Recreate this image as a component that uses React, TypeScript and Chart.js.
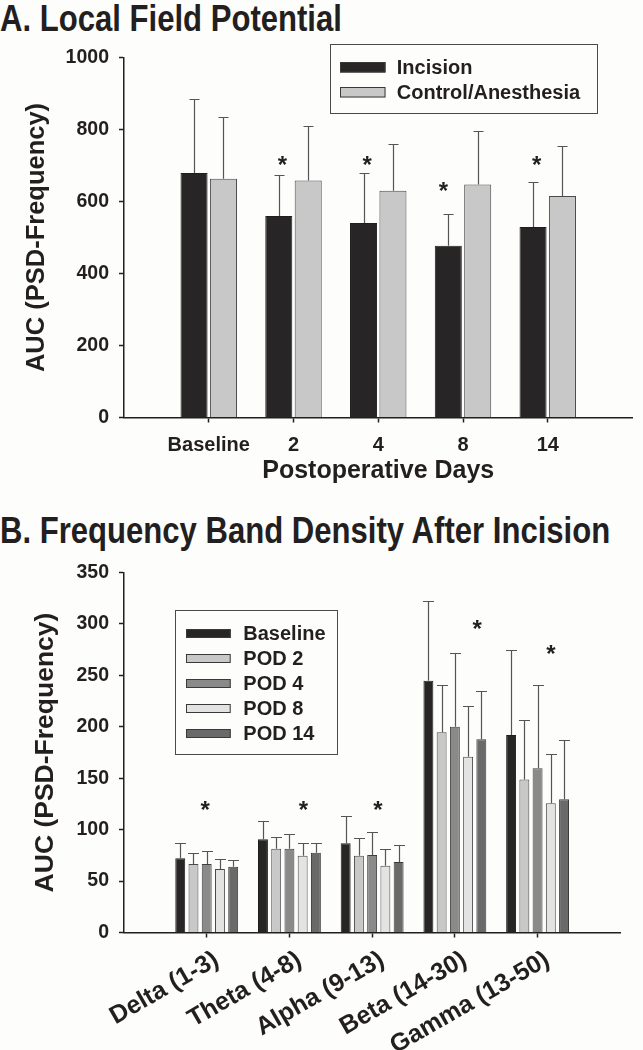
import React, { useEffect, useRef } from 'react';
import { Chart, registerables } from 'chart.js';

Chart.register(...registerables);

const FONT = '"Liberation Sans", Arial, Helvetica, sans-serif';
const INK = '#231f20';
const BG = '#fdfdfb';

// ---------- Panel A: Local Field Potential ----------
const daysLabels = ['Baseline', '2', '4', '8', '14'];
const incisionMean = [679, 560, 540, 477, 529];
const incisionErrTop = [886, 673, 680, 564, 654];
const controlMean = [663, 658, 630, 647, 615];
const controlErrTop = [834, 810, 760, 797, 753];
const starAValue = [null, 717, 717, 644, 717];
const starAOffset = [0, -0.13, -0.13, -0.23, -0.13];
const yTicksA = [0, 200, 400, 600, 800, 1000];

// ---------- Panel B: Frequency Band Density ----------
const bandLabels = ['Delta (1-3)', 'Theta (4-8)', 'Alpha (9-13)', 'Beta (14-30)', 'Gamma (13-50)'];
const baselineMean = [72.1, 90.6, 86.7, 244.8, 191.9];
const baselineErrTop = [86.7, 108.8, 113, 322.4, 274.4];
const pod2Mean = [66.6, 81.5, 74.7, 194.8, 148.7];
const pod2ErrTop = [77.6, 92.5, 91.9, 240.9, 206.5];
const pod4Mean = [66.6, 81.5, 75.3, 200, 159.7];
const pod4ErrTop = [78.9, 95.5, 97.7, 272.1, 240.9];
const pod8Mean = [61.7, 74.7, 64.9, 170.8, 125.6];
const pod8ErrTop = [71.8, 86.7, 80.8, 219.8, 173.7];
const pod14Mean = [64.0, 77.6, 68.5, 188.0, 129.5];
const pod14ErrTop = [70.8, 86.7, 84.7, 234.7, 186.7];
const starBValue = [125, 125, 125, 301, 276];
const starBOffset = [-0.02, 0.17, 0.07, 0.27, 0.16];
const yTicksB = [0, 50, 100, 150, 200, 250, 300, 350];

const pad = (a: any[]) => [null, ...a, null];
const padLabels = (a: string[]) => ['', ...a, ''];

// ---------- plugins ----------
const errorBarPlugin = {
  id: 'errorBars',
  afterDatasetsDraw(chart: any, _args: any, opts: any) {
    const { ctx } = chart;
    const yScale = chart.scales.y;
    ctx.save();
    ctx.strokeStyle = opts.color;
    ctx.lineWidth = opts.width;
    chart.data.datasets.forEach((ds: any, di: number) => {
      const meta = chart.getDatasetMeta(di);
      meta.data.forEach((bar: any, j: number) => {
        const v = ds.errTop ? ds.errTop[j] : null;
        if (v == null) return;
        const x = Math.round(bar.x) + 0.5;
        const yTop = Math.round(yScale.getPixelForValue(v)) + 0.5;
        ctx.beginPath();
        ctx.moveTo(x, bar.y);
        ctx.lineTo(x, yTop);
        ctx.moveTo(x - opts.cap / 2, yTop);
        ctx.lineTo(x + opts.cap / 2, yTop);
        ctx.stroke();
      });
    });
    ctx.restore();
  },
};

const starPlugin = {
  id: 'stars',
  afterDatasetsDraw(chart: any, _args: any, opts: any) {
    const { ctx } = chart;
    const xs = chart.scales.x;
    const ys = chart.scales.y;
    ctx.save();
    ctx.fillStyle = INK;
    ctx.font = `bold ${opts.size}px ${FONT}`;
    ctx.textAlign = 'center';
    ctx.textBaseline = 'alphabetic';
    opts.values.forEach((v: number | null, i: number) => {
      if (v == null) return;
      const x = xs.getPixelForValue(i + 1 + opts.offsets[i]);
      const y = ys.getPixelForValue(v) + opts.size * 0.57;
      ctx.fillText('*', x, y);
    });
    ctx.restore();
  },
};

const boxLegendPlugin = {
  id: 'boxLegend',
  afterDraw(chart: any, _args: any, o: any) {
    const { ctx } = chart;
    ctx.save();
    ctx.strokeStyle = '#4a4a4a';
    ctx.lineWidth = 1;
    ctx.strokeRect(Math.round(o.x) + 0.5, Math.round(o.y) + 0.5, Math.round(o.w), Math.round(o.h));
    ctx.font = `bold ${o.fontSize}px ${FONT}`;
    ctx.textBaseline = 'middle';
    ctx.textAlign = 'left';
    chart.data.datasets.forEach((ds: any, i: number) => {
      const cy = o.firstRowY + i * o.rowGap;
      const top = Math.round(cy - o.swatchH / 2);
      ctx.fillStyle = ds.backgroundColor;
      ctx.fillRect(o.swatchX, top, o.swatchW, o.swatchH);
      ctx.strokeStyle = '#3a3a3a';
      ctx.strokeRect(o.swatchX + 0.5, top + 0.5, o.swatchW - 1, o.swatchH - 1);
      ctx.fillStyle = INK;
      ctx.fillText(ds.label, o.textX, cy + 1);
    });
    ctx.restore();
  },
};

const axisGrid = (lastIndex: number | null) => ({
  display: true,
  drawOnChartArea: false,
  drawTicks: true,
  tickLength: 5,
  tickWidth: 1.5,
  offset: false,
  tickColor: (c: any) =>
    lastIndex !== null && (c.index === 0 || c.index === lastIndex) ? 'rgba(0,0,0,0)' : INK,
});

const plainNumber = (v: any) => String(v);

function ChartA() {
  const ref = useRef<HTMLCanvasElement | null>(null);
  useEffect(() => {
    if (!ref.current) return;
    const labels = padLabels(daysLabels);
    const chart = new Chart(ref.current, {
      type: 'bar',
      data: {
        labels,
        datasets: [
          {
            label: 'Incision',
            data: pad(incisionMean),
            errTop: pad(incisionErrTop),
            backgroundColor: '#282526',
            borderColor: '#1e1e1e',
            borderWidth: 1,
          } as any,
          {
            label: 'Control/Anesthesia',
            data: pad(controlMean),
            errTop: pad(controlErrTop),
            backgroundColor: '#c8c8c8',
            borderColor: '#4a4a4a',
            borderWidth: 1,
          } as any,
        ],
      },
      options: {
        responsive: false,
        animation: false,
        devicePixelRatio: 1,
        layout: { padding: { top: 27.5, right: 4, bottom: 0, left: 0 } },
        datasets: { bar: { categoryPercentage: 0.694, barPercentage: 0.92 } },
        scales: {
          x: {
            type: 'category',
            offset: false,
            grid: axisGrid(labels.length - 1),
            border: { display: true, color: INK, width: 1.5 },
            ticks: {
              autoSkip: false,
              maxRotation: 0,
              minRotation: 0,
              padding: 10.5,
              color: INK,
              font: { family: FONT, size: 20, weight: 'bold' },
            },
            title: {
              display: true,
              text: 'Postoperative Days',
              color: INK,
              font: { family: FONT, size: 25, weight: 'bold', lineHeight: 1.2 },
              padding: { top: 0, bottom: 14.2 },
            },
            afterFit: (s: any) => {
              s.height = 82.5;
            },
          },
          y: {
            min: yTicksA[0],
            max: yTicksA[yTicksA.length - 1],
            grid: axisGrid(null),
            border: { display: true, color: INK, width: 1.5 },
            ticks: {
              stepSize: yTicksA[1] - yTicksA[0],
              padding: 10,
              color: INK,
              callback: plainNumber,
              font: { family: FONT, size: 19.5, weight: 'bold' },
            },
            title: {
              display: true,
              text: 'AUC (PSD-Frequency)',
              color: INK,
              font: { family: FONT, size: 25.5, weight: 'bold', lineHeight: 1.2 },
              padding: { top: 21.3, bottom: 0 },
            },
            afterFit: (s: any) => {
              s.width = 124;
            },
          },
        },
        plugins: {
          legend: { display: false },
          tooltip: { enabled: false },
          errorBars: { color: '#555', width: 1.2, cap: 10 },
          stars: { values: starAValue, offsets: starAOffset, size: 24 },
          boxLegend: {
            x: 330,
            y: 14.3,
            w: 266.6,
            h: 69.4,
            swatchX: 340,
            swatchW: 45.5,
            swatchH: 10.5,
            firstRowY: 37.3,
            rowGap: 25,
            textX: 396.8,
            fontSize: 20,
          },
        } as any,
      },
      plugins: [errorBarPlugin, starPlugin, boxLegendPlugin],
    } as any);
    return () => chart.destroy();
  }, []);
  return (
    <canvas
      ref={ref}
      width={643}
      height={470}
      style={{ position: 'absolute', left: 0, top: 30, width: 643, height: 470 }}
    />
  );
}

function ChartB() {
  const ref = useRef<HTMLCanvasElement | null>(null);
  useEffect(() => {
    if (!ref.current) return;
    const labels = padLabels(bandLabels);
    const mk = (label: string, mean: number[], err: number[], color: string, border: string) =>
      ({
        label,
        data: pad(mean),
        errTop: pad(err),
        backgroundColor: color,
        borderColor: border,
        borderWidth: 1,
      } as any);
    const chart = new Chart(ref.current, {
      type: 'bar',
      data: {
        labels,
        datasets: [
          mk('Baseline', baselineMean, baselineErrTop, '#282526', '#1e1e1e'),
          mk('POD 2', pod2Mean, pod2ErrTop, '#c8c8c8', '#4a4a4a'),
          mk('POD 4', pod4Mean, pod4ErrTop, '#8a8a8a', '#3e3e3e'),
          mk('POD 8', pod8Mean, pod8ErrTop, '#e3e3e3', '#4a4a4a'),
          mk('POD 14', pod14Mean, pod14ErrTop, '#6a6a6a', '#3a3a3a'),
        ],
      },
      options: {
        responsive: false,
        animation: false,
        devicePixelRatio: 1,
        layout: { padding: { top: 22.5, right: 4, bottom: 0, left: 0 } },
        datasets: { bar: { categoryPercentage: 0.8, barPercentage: 0.75 } },
        scales: {
          x: {
            type: 'category',
            offset: false,
            grid: axisGrid(labels.length - 1),
            border: { display: true, color: INK, width: 1.5 },
            ticks: {
              autoSkip: false,
              maxRotation: 30,
              minRotation: 30,
              padding: 7.7,
              labelOffset: 10,
              color: INK,
              font: { family: FONT, size: 25, weight: 'bold' },
            },
            afterFit: (s: any) => {
              s.height = 117.5;
            },
          },
          y: {
            min: yTicksB[0],
            max: yTicksB[yTicksB.length - 1],
            grid: axisGrid(null),
            border: { display: true, color: INK, width: 1.5 },
            ticks: {
              stepSize: yTicksB[1] - yTicksB[0],
              padding: 10,
              color: INK,
              callback: plainNumber,
              font: { family: FONT, size: 19.5, weight: 'bold' },
            },
            title: {
              display: true,
              text: 'AUC (PSD-Frequency)',
              color: INK,
              font: { family: FONT, size: 26.5, weight: 'bold', lineHeight: 1.2 },
              padding: { top: 29.9, bottom: 0 },
            },
            afterFit: (s: any) => {
              s.width = 124;
            },
          },
        },
        plugins: {
          legend: { display: false },
          tooltip: { enabled: false },
          errorBars: { color: '#555', width: 1.2, cap: 11 },
          stars: { values: starBValue, offsets: starBOffset, size: 24 },
          boxLegend: {
            x: 175,
            y: 60,
            w: 161.7,
            h: 144,
            swatchX: 186,
            swatchW: 44.7,
            swatchH: 9,
            firstRowY: 83.3,
            rowGap: 25,
            textX: 243.3,
            fontSize: 20,
          },
        } as any,
      },
      plugins: [errorBarPlugin, starPlugin, boxLegendPlugin],
    } as any);
    return () => chart.destroy();
  }, []);
  return (
    <canvas
      ref={ref}
      width={643}
      height={500}
      style={{ position: 'absolute', left: 0, top: 550, width: 643, height: 500 }}
    />
  );
}

const titleStyle = (top: number): React.CSSProperties => ({
  position: 'absolute',
  left: 0,
  top,
  margin: 0,
  fontFamily: FONT,
  fontWeight: 'bold',
  fontSize: 37,
  lineHeight: '37px',
  color: INK,
  whiteSpace: 'nowrap',
  transform: 'scaleX(0.84)',
  transformOrigin: 'left top',
});

export default function App() {
  return (
    <div
      style={{
        position: 'absolute',
        left: 0,
        top: 0,
        width: 643,
        height: 1050,
        background: BG,
        overflow: 'hidden',
      }}
    >
      <div style={titleStyle(0)}>A. Local Field Potential</div>
      <div style={titleStyle(511.5)}>B. Frequency Band Density After Incision</div>
      <ChartA />
      <ChartB />
    </div>
  );
}
